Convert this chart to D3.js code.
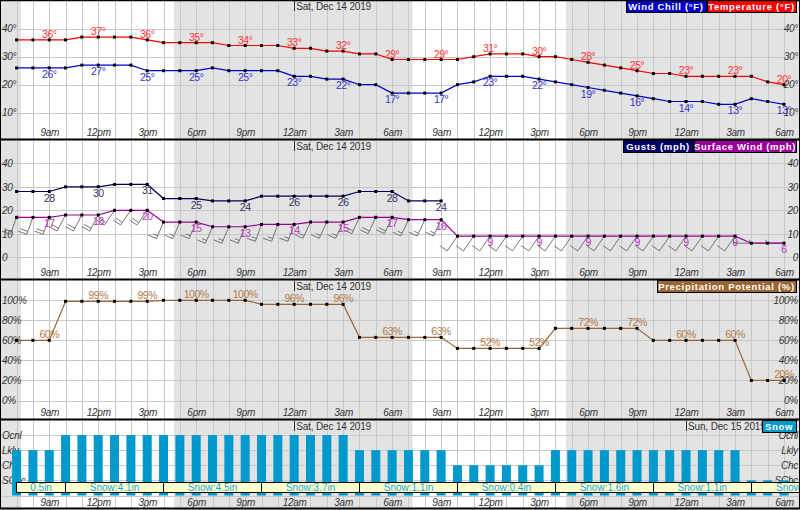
<!DOCTYPE html>
<html>
<head>
<meta charset="utf-8">
<script src="https://cdn.jsdelivr.net/npm/d3@7"></script>
<style>
  html, body { margin: 0; padding: 0; background: #fff; }
  svg { display: block; font-family: "Liberation Sans", Arial, sans-serif; }
</style>
</head>
<body>
<div id="chart"></div>
<script>
// hourly values, 7am Sat to 6am Sun
const temperature = [36,36,36,36,37,37,37,37,36,35,35,35,35,34,34,34,34,33,33,32,32,31,31,29,
  29,29,29,29,30,31,31,31,30,30,29,28,27,26,25,24,24,23,23,23,23,23,21,20];
const windChill = [26,26,26,26,27,27,27,27,25,25,25,25,26,25,25,25,25,23,23,22,22,20,20,17,
  17,17,17,20,21,23,23,23,22,21,20,19,18,17,16,15,14,14,14,13,13,15,14,13];
const gusts = [28,28,28,30,30,30,31,31,31,25,25,25,24,24,24,26,26,26,26,26,26,28,28,28,24,24,24];
const surfaceWind = [17,17,17,18,18,18,20,20,20,15,15,15,13,13,13,14,14,14,15,15,15,17,17,17,
  16,16,16,9,9,9,9,9,9,9,9,9,9,9,9,9,9,9,9,9,9,6,6,6];
const windDir = [200,200,200,208,208,208,215,215,215,203,203,203,203,203,203,200,200,200,205,205,205,205,205,205,
  205,205,205,215,215,215,215,215,215,215,215,215,215,215,215,215,215,215,215,215,215,270,270,270];
const precipPotential = [60,60,60,99,99,99,99,99,99,100,100,100,100,100,100,96,96,96,96,96,96,63,63,63,
  63,63,63,52,52,52,52,52,52,72,72,72,72,72,72,60,60,60,60,60,60,20,20,20];
const snowChance = ["Lkly","Lkly","Lkly","Ocnl","Ocnl","Ocnl","Ocnl","Ocnl","Ocnl","Ocnl","Ocnl","Ocnl",
  "Ocnl","Ocnl","Ocnl","Ocnl","Ocnl","Ocnl","Ocnl","Ocnl","Ocnl","Lkly","Lkly","Lkly",
  "Lkly","Lkly","Lkly","Chc","Chc","Chc","Chc","Chc","Chc","Lkly","Lkly","Lkly",
  "Lkly","Lkly","Lkly","Lkly","Lkly","Lkly","Lkly","Lkly","Lkly","SChc","SChc","SChc"];
const hourLabels = ["9am","12pm","3pm","6pm","9pm","12am","3am","6am"];
const snowStarts = [0,3,9,15,21,27,33,39,45];
const snowLabels = ["0.5in","Snow:4.1in","Snow:4.5in","Snow:3.7in","Snow:1.1in","Snow:0.4in","Snow:1.6in","Snow:1.1in","Snow"];
const nightSpans = [[-1.1,0.27],[9.64,24.25],[33.65,48]];
const degTicks = [10,20,30,40];
const windTicks = [0,10,20,30,40];
const pctTicks = [0,20,40,60,80,100];
const chanceCats = ["","SChc","Chc","Lkly","Ocnl"];

const width = 800, height = 510;
const grid = "#c8c8c8", night = "#e3e3e3", ink = "#333";

const svg = d3.select("#chart").append("svg")
  .attr("width", width)
  .attr("height", height);

const hours = d3.range(temperature.length);
const x = d3.scaleLinear().domain([0, 47]).range([16.6, 784]);

const yTemp = d3.scaleLinear().domain([0, 40]).range([140.7, 28.7]);
const yWind = d3.scaleLinear().domain([0, 40]).range([117.3, 23.3]);
const yPct = d3.scaleLinear().domain([0, 100]).range([120.5, 20.3]);
const yChance = d3.scalePoint().domain(chanceCats).range([75.5, 15]);

const panels = [
  {top: 0, y: yTemp, ticks: degTicks, fmt: d => d + "°"},
  {top: 140, y: yWind, ticks: windTicks, fmt: d => d},
  {top: 280, y: yPct, ticks: pctTicks, fmt: d => d + "%"},
  {top: 420, y: yChance, ticks: chanceCats, fmt: d => d}
];

function styleTick(sel) {
  sel.attr("font-size", 10)
    .attr("letter-spacing", -0.25)
    .attr("font-family", "Liberation Sans")
    .attr("font-style", "italic")
    .attr("fill", ink);
}

const gs = panels.map(p => {
  const g = svg.append("g").attr("transform", `translate(0,${p.top})`);
  const last = p.top == 420;

  g.selectAll("rect.night")
    .data(nightSpans)
    .join("rect")
    .attr("class", "night")
    .attr("x", d => x(d[0]))
    .attr("width", d => x(d[1]) - x(d[0]))
    .attr("y", 0)
    .attr("height", 139)
    .attr("fill", night);

  // hour lines, labels every 3 hours
  const xAxis = g.append("g")
    .call(d3.axisBottom(x)
      .tickValues(hours)
      .tickSize(last ? 89 : 139)
      .tickFormat(d => d % 3 == 2 ? hourLabels[((d - 2) / 3) % 8] : ""));
  xAxis.select(".domain").remove();
  xAxis.selectAll("line").attr("stroke", grid).attr("shape-rendering", "crispEdges");
  xAxis.selectAll("text")
    .attr("y", last ? 86 : 136)
    .attr("dy", 0)
    .call(styleTick);

  // value lines, labels on both sides
  const yAxis = g.append("g")
    .call(d3.axisLeft(p.y).tickValues(p.ticks).tickSize(-width).tickFormat(p.fmt));
  yAxis.select(".domain").remove();
  yAxis.selectAll("line").attr("stroke", grid).attr("shape-rendering", "crispEdges");
  yAxis.selectAll("text")
    .attr("x", 2)
    .attr("text-anchor", "start")
    .call(styleTick);

  const yRight = g.append("g")
    .attr("transform", `translate(${width},0)`)
    .call(d3.axisRight(p.y).tickValues(p.ticks).tickSize(0).tickFormat(p.fmt));
  yRight.select(".domain").remove();
  yRight.selectAll("text")
    .attr("x", -2)
    .attr("text-anchor", "end")
    .call(styleTick);

  return g;
});

function drawSeries(g, values, y, color, labelDy, suffix, labelColor) {
  const line = d3.line().x((d, i) => x(i)).y(d => y(d));
  g.append("path")
    .attr("d", line(values))
    .attr("fill", "none")
    .attr("stroke", color)
    .attr("stroke-width", 1.2);
  g.selectAll(null)
    .data(values)
    .join("rect")
    .attr("x", (d, i) => x(i) - 1.5)
    .attr("y", d => y(d) - 1.5)
    .attr("width", 3)
    .attr("height", 3)
    .attr("fill", "#000");
  g.selectAll(null)
    .data(values.map((v, i) => [v, i]).filter(d => d[1] % 3 == 2))
    .join("text")
    .attr("x", d => x(d[1]))
    .attr("y", d => y(d[0]) + labelDy)
    .attr("text-anchor", "middle")
    .attr("font-size", 10.5)
    .attr("letter-spacing", -0.5)
    .attr("fill", labelColor)
    .text(d => d[0] + suffix);
}

function drawBarbs(g, speeds, dirs, y) {
  const barbs = g.append("g").attr("stroke", "#666").attr("stroke-width", 0.9).attr("fill", "none");
  speeds.forEach((s, i) => {
    const a = dirs[i] * Math.PI / 180;
    const ux = Math.sin(a), uy = -Math.cos(a);
    const x0 = x(i), y0 = y(s);
    const tx = x0 + ux * 18, ty = y0 + uy * 18;
    const px = -uy, py = ux;
    const path = d3.path();
    path.moveTo(x0, y0);
    path.lineTo(tx, ty);
    path.moveTo(tx, ty);
    if (s >= 8) {
      path.lineTo(tx + px * 9, ty + py * 9);
    } else {
      path.lineTo(tx + px * 3.5, ty + py * 3.5);
    }
    if (s >= 13) {
      const l2 = s >= 17 ? 8 : 5;
      path.moveTo(tx - ux * 3, ty - uy * 3);
      path.lineTo(tx - ux * 3 + px * l2, ty - uy * 3 + py * l2);
    }
    barbs.append("path").attr("d", path.toString());
  });
}

drawSeries(gs[0], temperature, yTemp, "#f00", -2, "°", "#f33");
drawSeries(gs[0], windChill, yTemp, "#00c", 10, "°", "#33c");
drawBarbs(gs[1], surfaceWind, windDir, yWind);
drawSeries(gs[1], gusts, yWind, "#006", 10, "", "#336");
drawSeries(gs[1], surfaceWind, yWind, "#909", 10, "", "#b3b");
drawSeries(gs[2], precipPotential, yPct, "#963", -2, "%", "#b27a4a");

// snow chance bars
gs[3].selectAll("rect.bar")
  .data(snowChance)
  .join("rect")
  .attr("class", "bar")
  .attr("x", (d, i) => x(i) - 4.5)
  .attr("width", 9)
  .attr("y", d => yChance(d))
  .attr("height", d => yChance("") - yChance(d))
  .attr("fill", "#09c");

// snow amount strip
const stripEnds = snowStarts.slice(1).concat([51]);
const strip = gs[3].append("g");
strip.selectAll("rect")
  .data(snowStarts)
  .join("rect")
  .attr("x", d => x(d))
  .attr("y", 62.5)
  .attr("width", (d, i) => Math.min(x(stripEnds[i]), 801) - x(d))
  .attr("height", 10)
  .attr("fill", "#ffc")
  .attr("stroke", "#000")
  .attr("shape-rendering", "crispEdges");
strip.selectAll("text")
  .data(snowLabels)
  .join("text")
  .attr("x", (d, i) => i == 8 ? 776 : x((snowStarts[i] + stripEnds[i]) / 2))
  .attr("y", 71)
  .attr("text-anchor", (d, i) => i == 8 ? "start" : "middle")
  .attr("font-size", 10)
  .attr("fill", "#1aa5dc")
  .text(d => d);

// date marks
function drawDate(g, i, label) {
  g.append("line")
    .attr("x1", x(i) + 0.5).attr("x2", x(i) + 0.5)
    .attr("y1", 1).attr("y2", 11)
    .attr("stroke", ink)
    .attr("shape-rendering", "crispEdges");
  g.append("text")
    .attr("x", x(i) + 2)
    .attr("y", 9.5)
    .attr("font-size", 10)
    .attr("letter-spacing", -0.15)
    .attr("fill", ink)
    .text(label);
}
gs.forEach(g => drawDate(g, 17, "Sat, Dec 14 2019"));
drawDate(gs[3], 41, "Sun, Dec 15 2019");

// legends
const legends = [
  [gs[0], 626, 80, "#00c", "Wind Chill (°F)"],
  [gs[0], 707, 89, "#f00", "Temperature (°F)"],
  [gs[1], 623, 70, "#006", "Gusts (mph)"],
  [gs[1], 694, 102, "#909", "Surface Wind (mph)"],
  [gs[2], 657, 139, "#963", "Precipitation Potential (%)"],
  [gs[3], 762, 34, "#09c", "Snow"]
];
legends.forEach(([g, lx, lw, color, label]) => {
  g.append("rect")
    .attr("x", lx).attr("y", 0)
    .attr("width", lw).attr("height", 12)
    .attr("fill", color)
    .attr("stroke", "#000")
    .attr("shape-rendering", "crispEdges");
  g.append("text")
    .attr("x", lx + lw / 2)
    .attr("y", 9.5)
    .attr("text-anchor", "middle")
    .attr("font-size", 9.5)
    .attr("font-weight", "bold")
    .attr("letter-spacing", 0.7)
    .attr("fill", "#fff")
    .text(label);
});

// panel frames
[0.5, 139.5, 279.5, 419.5, 508.5].forEach((yy, i) => {
  svg.append("line")
    .attr("x1", 0).attr("x2", width)
    .attr("y1", yy).attr("y2", yy)
    .attr("stroke", "#000")
    .attr("stroke-width", i == 0 ? 1.5 : 2);
});
svg.append("rect")
  .attr("x", 0.5).attr("y", 0.5)
  .attr("width", width - 1).attr("height", 508)
  .attr("fill", "none")
  .attr("stroke", "#000");
</script>
</body>
</html>
